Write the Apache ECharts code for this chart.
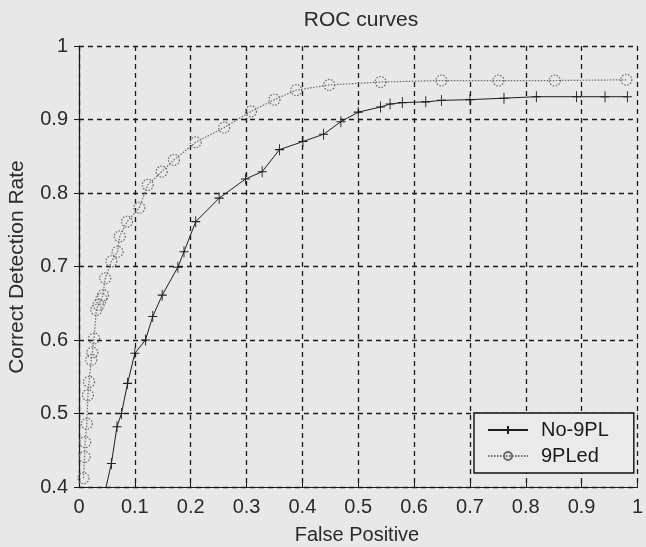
<!DOCTYPE html>
<html>
<head>
<meta charset="utf-8">
<script src="https://cdn.jsdelivr.net/npm/echarts@6/dist/echarts.min.js"></script>
<style>
html,body{margin:0;padding:0;background:#e8e8e8;}
#c{width:646px;height:547px;}
</style>
</head>
<body>
<div id="c"></div>
<script>
var titleText = 'ROC curves';
var xName = 'False Positive';
var yName = 'Correct Detection Rate';
var xTicks = ['0','0.1','0.2','0.3','0.4','0.5','0.6','0.7','0.8','0.9','1'];
var yTicks = ['0.4','0.5','0.6','0.7','0.8','0.9','1'];
var seriesNames = ['No-9PL', '9PLed'];

var no9pl = [
  [0.047,0.395],[0.058,0.432],[0.068,0.482],[0.076,0.500],[0.087,0.541],[0.100,0.582],
  [0.119,0.600],[0.132,0.632],[0.149,0.661],[0.177,0.699],[0.188,0.720],[0.209,0.761],
  [0.251,0.793],[0.298,0.819],[0.328,0.829],[0.359,0.859],[0.401,0.870],[0.438,0.880],
  [0.469,0.897],[0.500,0.910],[0.540,0.917],[0.557,0.921],[0.579,0.923],[0.621,0.924],
  [0.649,0.926],[0.700,0.927],[0.761,0.929],[0.819,0.931],[0.891,0.931],[0.942,0.931],
  [0.982,0.931]
];
var pled9 = [
  [0.008,0.412],[0.010,0.441],[0.011,0.461],[0.014,0.486],[0.016,0.525],[0.018,0.543],
  [0.022,0.573],[0.024,0.583],[0.027,0.602],[0.031,0.641],[0.035,0.648],[0.040,0.656],
  [0.043,0.661],[0.047,0.684],[0.058,0.707],[0.069,0.720],[0.073,0.741],[0.086,0.761],
  [0.108,0.780],[0.123,0.811],[0.148,0.829],[0.170,0.845],[0.209,0.869],[0.260,0.889],
  [0.308,0.911],[0.350,0.927],[0.389,0.940],[0.448,0.947],[0.540,0.951],[0.649,0.953],
  [0.751,0.953],[0.852,0.953],[0.980,0.954]
];

var chart = echarts.init(document.getElementById('c'), null, {renderer:'canvas'});
var font = 'Liberation Sans, Arial, sans-serif';
var gridDash = {color:'#1a1a1a', width:1.3, type:[5,4]};
var tickLabel = function(list){ return function(v){
  var s = String(Math.round(v*10)/10);
  return list.indexOf(s) >= 0 ? s : '';
};};

chart.setOption({
  backgroundColor:'#e8e8e8',
  animation:false,
  grid:{left:79, top:46, width:564, height:441, containLabel:false},
  xAxis:[{
    type:'value', min:0, max:1, interval:0.1, position:'bottom',
    axisLine:{show:true, lineStyle:{color:'#1a1a1a', width:1.2}},
    axisTick:{show:true, inside:true, length:5, lineStyle:{color:'#1a1a1a'}},
    axisLabel:{show:true, margin:10, color:'#2a2a2a', fontSize:20, fontFamily:font, formatter:tickLabel(xTicks)},
    splitLine:{show:true, lineStyle:gridDash}
  },{
    type:'value', min:0, max:1, interval:0.1, position:'top',
    axisLine:{show:false},
    axisTick:{show:true, inside:true, length:5, lineStyle:{color:'#1a1a1a'}},
    axisLabel:{show:false},
    splitLine:{show:false}
  }],
  yAxis:[{
    type:'value', min:0.4, max:1, interval:0.1, position:'left',
    axisLine:{show:true, lineStyle:{color:'#1a1a1a', width:1.2}},
    axisTick:{show:true, inside:true, length:5, lineStyle:{color:'#1a1a1a'}},
    axisLabel:{show:true, margin:11, color:'#2a2a2a', fontSize:20, fontFamily:font, formatter:tickLabel(yTicks)},
    splitLine:{show:true, lineStyle:gridDash}
  },{
    type:'value', min:0.4, max:1, interval:0.1, position:'right',
    axisLine:{show:false},
    axisTick:{show:true, inside:true, length:5, lineStyle:{color:'#1a1a1a'}},
    axisLabel:{show:false},
    splitLine:{show:false}
  }],
  legend:{
    orient:'vertical', left:474, top:413,
    padding:[5,25,5,13], itemGap:2, itemWidth:40, itemHeight:10,
    borderColor:'#111', borderWidth:1.4, borderRadius:0, backgroundColor:'#eaeaea',
    textStyle:{fontSize:20, fontFamily:font, color:'#1a1a1a', lineHeight:24, padding:[0,0,0,8]},
    data:seriesNames
  },
  graphic:[
    {type:'text', x:361, y:20, style:{text:titleText, font:'21px '+font, fill:'#2a2a2a', textAlign:'center', textVerticalAlign:'middle'}},
    {type:'text', x:357, y:535, style:{text:xName, font:'20px '+font, fill:'#2a2a2a', textAlign:'center', textVerticalAlign:'middle'}},
    {type:'text', x:17, y:267, rotation:Math.PI/2, style:{text:yName, font:'21px '+font, fill:'#2a2a2a', textAlign:'center', textVerticalAlign:'middle'}}
  ],
  series:[{
    name:seriesNames[0], type:'line', data:no9pl, clip:true,
    symbol:'path://M0,5L10,5M5,0L5,10', symbolSize:[9,11], showAllSymbol:true,
    lineStyle:{color:'#1e1e1e', width:1},
    itemStyle:{color:'#1e1e1e', borderColor:'#1e1e1e', borderWidth:1}
  },{
    name:seriesNames[1], type:'line', data:pled9, clip:true,
    symbol:'circle', symbolSize:11, showAllSymbol:true,
    lineStyle:{color:'#6a6a6a', width:1.2, type:[1.5,1.5]},
    itemStyle:{color:'rgba(0,0,0,0)', borderColor:'#6a6a6a', borderWidth:1.2, borderType:[1.5,1.5]}
  }]
});
</script>
</body>
</html>
